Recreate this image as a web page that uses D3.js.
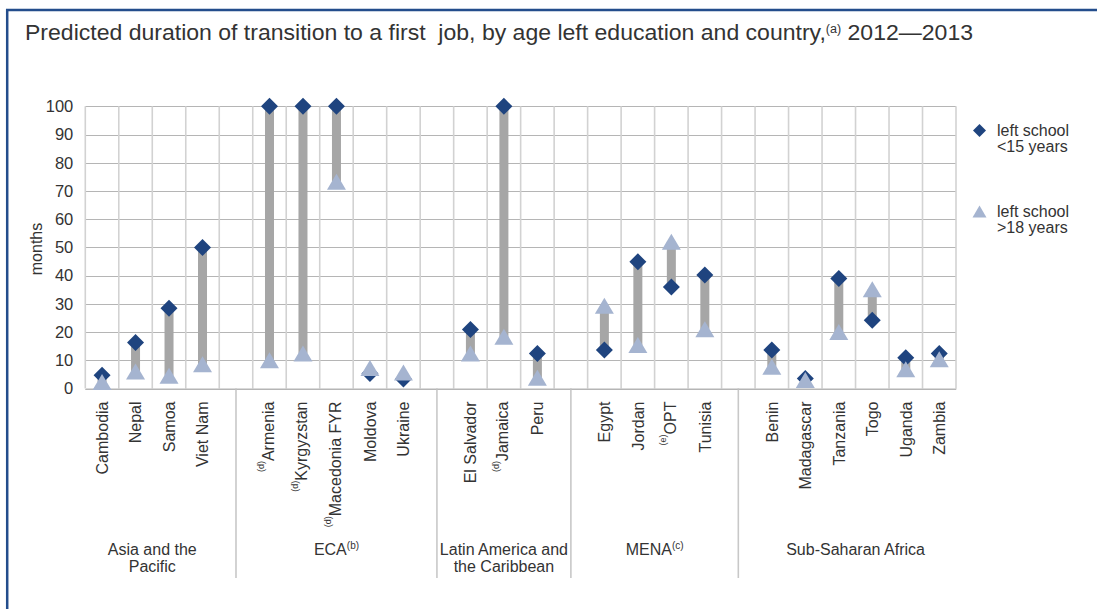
<!DOCTYPE html>
<html>
<head>
<meta charset="utf-8">
<script src="https://cdn.jsdelivr.net/npm/d3@7"></script>
<style>
  html, body { margin: 0; padding: 0; background: #fff; }
  svg { display: block; }
  text { font-family: "Liberation Sans", Arial, sans-serif; fill: #333; }
</style>
</head>
<body>
<svg id="chart" width="1097" height="609"></svg>
<script>
// ---- data ----
const categories = ["Cambodia","Nepal","Samoa","Viet Nam","",
  "Armenia","Kyrgyzstan","Macedonia FYR","Moldova","Ukraine","",
  "El Salvador","Jamaica","Peru","",
  "Egypt","Jordan","OPT","Tunisia","",
  "Benin","Madagascar","Tanzania","Togo","Uganda","Zambia"];
const notes = ["","","","","",
  "(d)","(d)","(d)","","","",
  "","(d)","","",
  "","","(e)","","",
  "","","","","",""];
const leftUnder15 = [4.7,16.3,28.4,50,null,
  100,100,100,5.3,3.4,null,
  20.9,100,12.4,null,
  13.6,44.9,36,40.2,null,
  13.6,3.5,39,24.2,10.9,12.4];
const leftOver18 = [2.3,6,4.5,8.6,null,
  10,12.4,73.3,7.3,5.7,null,
  12.4,18.3,3.8,null,
  29.3,15.4,52,21,null,
  7.7,3,20,35.2,6.8,10.4];
const yTicks = [0,10,20,30,40,50,60,70,80,90,100];
const groupNames = [["Asia and the","Pacific"],["ECA","(b)"],["Latin America and","the Caribbean"],["MENA","(c)"],["Sub-Saharan Africa"]];
const groupFirst = [0,5,11,15,20];
const groupLast = [3,9,13,18,25];
const seriesNames = [["left school","<15 years"],["left school",">18 years"]];

// ---- layout ----
const svg = d3.select("#chart");
const navy = "#1f447f", light = "#a5b4d0", barGray = "#a6a6a6";
const x = d3.scaleBand().domain(d3.range(categories.length)).range([85.3, 956]).padding(0);
const y = d3.scaleLinear().domain([0,100]).range([388.5, 106.3]);

// border
svg.append("line").attr("x1",6).attr("x2",1097).attr("y1",10).attr("y2",10)
  .attr("stroke","#234d8c").attr("stroke-width",2.5);
svg.append("line").attr("x1",7.2).attr("x2",7.2).attr("y1",9).attr("y2",609)
  .attr("stroke","#234d8c").attr("stroke-width",2.5);

// title
const title = svg.append("text").attr("x",25).attr("y",40)
  .style("font-family",'"Liberation Sans Narrow","Liberation Sans",Arial,sans-serif')
  .style("font-size","22px").attr("fill","#222");
title.append("tspan").text("Predicted duration of transition to a first\u00a0 job, by age left education and country,");
title.append("tspan").attr("dy",-7).style("font-size","12px").text("(a)");
title.append("tspan").attr("dy",7).text(" 2012\u20142013");
const tl = title.node().getComputedTextLength();
if (Math.abs(tl - 948) > 4) title.attr("textLength",948).attr("lengthAdjust","spacingAndGlyphs");

// grid: horizontal
svg.append("g").selectAll("line").data(yTicks).join("line")
  .attr("x1",x.range()[0]).attr("x2",x.range()[1])
  .attr("y1",d=>Math.round(y(d))+0.5).attr("y2",d=>Math.round(y(d))+0.5)
  .attr("stroke","#b5b5b5").attr("stroke-width",1);
// grid: vertical
const bounds = d3.range(categories.length+1).map(i => i < categories.length ? x(i) : x.range()[1]);
svg.append("g").selectAll("line").data(bounds).join("line")
  .attr("x1",d=>d).attr("x2",d=>d).attr("y1",y(100)).attr("y2",y(0))
  .attr("stroke","#d2d2d2").attr("stroke-width",1.6);

// y axis labels
const yAxis = d3.axisLeft(y).tickValues(yTicks).tickSize(0).tickPadding(12);
const ya = svg.append("g").attr("transform",`translate(${x.range()[0]},0)`).call(yAxis);
ya.select(".domain").remove();
ya.selectAll("text").style("font-size","16.5px").attr("fill","#333")
  .style("font-family",'"Liberation Sans", Arial, sans-serif');

svg.append("text").attr("transform","translate(42,249) rotate(-90)")
  .attr("text-anchor","middle").style("font-size","16px").text("months");

// group dividers (centre of gap columns)
const gapIdx = categories.map((c,i)=>c===""?i:-1).filter(i=>i>=0);
svg.append("g").selectAll("line").data(gapIdx).join("line")
  .attr("x1",d=>x(d)+x.bandwidth()/2).attr("x2",d=>x(d)+x.bandwidth()/2)
  .attr("y1",y(0)).attr("y2",578)
  .attr("stroke","#c8c8c8").attr("stroke-width",1.6);

// category labels
const xAxis = d3.axisBottom(x).tickSize(0).tickFormat(()=>"");
const xa = svg.append("g").attr("transform",`translate(0,${y(0)})`).call(xAxis);
xa.select(".domain").attr("stroke","#b5b5b5");
xa.selectAll(".tick").each(function(i){
  if (!categories[i]) return;
  const t = d3.select(this).append("text")
    .attr("transform","translate(0,13) rotate(-90)")
    .attr("text-anchor","end").attr("dy","0.36em").attr("fill","#333")
    .style("font-size","16px").style("font-family",'"Liberation Sans", Arial, sans-serif');
  if (notes[i]) {
    t.append("tspan").attr("dy","-0.6em").style("font-size","9px").text(notes[i]);
    t.append("tspan").attr("dy","0.6em").text(categories[i]);
  } else {
    t.append("tspan").text(categories[i]);
  }
});

// group labels
groupNames.forEach((g,k)=>{
  const cx = (x(groupFirst[k]) + x(groupLast[k]) + x.bandwidth())/2;
  const t = svg.append("text").attr("x",cx).attr("y",555).attr("text-anchor","middle")
    .style("font-size","16px");
  if (g.length === 2 && g[1].startsWith("(")) {
    t.append("tspan").text(g[0]);
    t.append("tspan").attr("dy",-6).style("font-size","10px").text(g[1]);
  } else {
    t.text(g[0]);
    if (g[1]) svg.append("text").attr("x",cx).attr("y",572).attr("text-anchor","middle")
      .style("font-size","16px").text(g[1]);
  }
});

// high-low bars
const idx = d3.range(categories.length).filter(i=>leftUnder15[i]!=null);
svg.append("g").selectAll("rect").data(idx).join("rect")
  .attr("x",i=>x(i)+x.bandwidth()/2-4.5).attr("width",9)
  .attr("y",i=>y(Math.max(leftUnder15[i],leftOver18[i])))
  .attr("height",i=>Math.abs(y(leftUnder15[i])-y(leftOver18[i])))
  .attr("fill",barGray);

// markers
const diamond = (cx,cy,r)=>`M${cx},${cy-r}L${cx+r},${cy}L${cx},${cy+r}L${cx-r},${cy}Z`;
const tri = (cx,cy,w,h)=>`M${cx},${cy-h/2}L${cx+w/2},${cy+h/2}L${cx-w/2},${cy+h/2}Z`;
svg.append("g").selectAll("path").data(idx).join("path")
  .attr("d",i=>diamond(x(i)+x.bandwidth()/2, y(leftUnder15[i]), 8.5))
  .attr("fill",navy);
svg.append("g").selectAll("path").data(idx).join("path")
  .attr("d",i=>tri(x(i)+x.bandwidth()/2, y(leftOver18[i]), 19, 16))
  .attr("fill",light);

// legend
svg.append("path").attr("d",diamond(979.5,130.5,6.5)).attr("fill",navy);
svg.append("path").attr("d",tri(979.5,211.5,14,12)).attr("fill",light);
const legY = [136,216.5];
seriesNames.forEach((s,k)=>{
  s.forEach((line,j)=>{
    svg.append("text").attr("x",997).attr("y",legY[k]+j*16.2)
      .style("font-size","16px").text(line);
  });
});
</script>
</body>
</html>
